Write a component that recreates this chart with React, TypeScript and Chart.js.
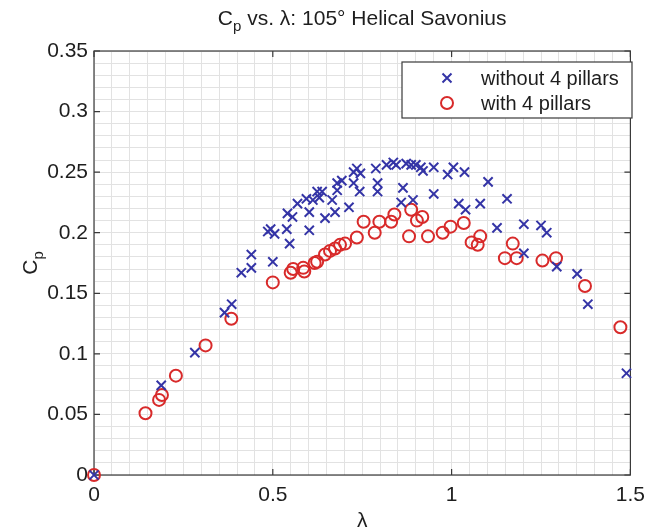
import React, { useEffect, useRef } from 'react';
import { Chart, registerables } from 'chart.js';

Chart.register(...registerables);

// ---- data ----
const withoutPillarsLambda = [
  0, 0.188, 0.282, 0.365, 0.385, 0.412, 0.44, 0.44, 0.486, 0.494, 0.505, 0.5, 0.539, 0.541, 0.555, 0.547,
  0.569, 0.594, 0.602, 0.602, 0.612, 0.624, 0.638, 0.63, 0.646, 0.666, 0.674, 0.68, 0.693, 0.68, 0.713,
  0.726, 0.735, 0.745, 0.726, 0.743, 0.788, 0.793, 0.793, 0.818, 0.837, 0.845, 0.864, 0.859, 0.873, 0.887,
  0.892, 0.9, 0.914, 0.92, 0.95, 0.95, 0.989, 1.005, 1.02, 1.036, 1.039, 1.08, 1.102, 1.127, 1.155, 1.202,
  1.202, 1.25, 1.266, 1.294, 1.351, 1.381, 1.489,
];
const withoutPillarsCp = [
  0, 0.074, 0.101, 0.134, 0.141, 0.167, 0.171, 0.182, 0.201, 0.203, 0.199, 0.176, 0.203, 0.216, 0.213, 0.191,
  0.224, 0.228, 0.217, 0.202, 0.227, 0.234, 0.234, 0.229, 0.212, 0.227, 0.217, 0.241, 0.243, 0.235, 0.221,
  0.25, 0.253, 0.249, 0.241, 0.234, 0.253, 0.241, 0.234, 0.256, 0.258, 0.256, 0.237, 0.225, 0.257, 0.256,
  0.227, 0.256, 0.254, 0.251, 0.254, 0.232, 0.248, 0.254, 0.224, 0.25, 0.219, 0.224, 0.242, 0.204, 0.228, 0.207,
  0.183, 0.206, 0.2, 0.172, 0.166, 0.141, 0.084,
];
const withPillarsLambda = [
  0, 0.144, 0.182, 0.19, 0.229, 0.312, 0.384, 0.5, 0.55, 0.557, 0.585, 0.588, 0.617, 0.624, 0.646, 0.66,
  0.674, 0.688, 0.702, 0.735, 0.754, 0.785, 0.798, 0.831, 0.84, 0.881, 0.887, 0.903, 0.918, 0.934, 0.975,
  0.997, 1.034, 1.056, 1.073, 1.08, 1.149, 1.171, 1.182, 1.254, 1.292, 1.373, 1.472,
];
const withPillarsCp = [
  0, 0.051, 0.062, 0.066, 0.082, 0.107, 0.129, 0.159, 0.167, 0.17, 0.171, 0.168, 0.175, 0.176, 0.182, 0.185,
  0.187, 0.19, 0.191, 0.196, 0.209, 0.2, 0.209, 0.209, 0.215, 0.197, 0.219, 0.21, 0.213, 0.197, 0.2,
  0.205, 0.208, 0.192, 0.19, 0.197, 0.179, 0.191, 0.179, 0.177, 0.179, 0.156, 0.122,
];
const xTickLabels = [0, 0.5, 1, 1.5];
const yTickLabels = [0, 0.05, 0.1, 0.15, 0.2, 0.25, 0.3, 0.35];
const seriesNames = ['without 4 pillars', 'with 4 pillars'];
const titleParts = ['C', 'p', ' vs. \u03bb: 105\u00b0 Helical Savonius'];
const yLabelParts = ['C', 'p'];
const xLabelText = '\u03bb';

const BLUE = '#3434a6';
const RED = '#d82a2a';
const FONT = '"Liberation Sans", Arial, sans-serif';
const TEXT = '#1e1e1e';

const isMajor = (v: number, list: number[]) => list.some((t) => Math.abs(t - v) < 1e-6);

const decorPlugin = {
  id: 'decor',
  beforeDatasetsDraw(chart: any) {
    const { ctx, chartArea: a, scales } = chart;
    ctx.save();
    ctx.strokeStyle = '#3a3a3a';
    ctx.lineWidth = 1.2;
    ctx.strokeRect(a.left, a.top, a.right - a.left, a.bottom - a.top);
    ctx.beginPath();
    xTickLabels.forEach((v) => {
      const x = scales.x.getPixelForValue(v);
      ctx.moveTo(x, a.bottom); ctx.lineTo(x, a.bottom - 6);
      ctx.moveTo(x, a.top); ctx.lineTo(x, a.top + 6);
    });
    yTickLabels.forEach((v) => {
      const y = scales.y.getPixelForValue(v);
      ctx.moveTo(a.left, y); ctx.lineTo(a.left + 6, y);
      ctx.moveTo(a.right, y); ctx.lineTo(a.right - 6, y);
    });
    ctx.stroke();
    ctx.restore();
  },
  afterDraw(chart: any) {
    const { ctx, chartArea: a } = chart;
    ctx.save();
    ctx.fillStyle = TEXT;
    ctx.textBaseline = 'alphabetic';
    const big = `21px ${FONT}`;
    const small = `15px ${FONT}`;
    ctx.font = big;
    const w0 = ctx.measureText(titleParts[0]).width;
    const w2 = ctx.measureText(titleParts[2]).width;
    ctx.font = small;
    const w1 = ctx.measureText(titleParts[1]).width;
    const cx = (a.left + a.right) / 2;
    let x = cx - (w0 + w1 + w2) / 2;
    const by = 25;
    ctx.textAlign = 'left';
    ctx.font = big; ctx.fillText(titleParts[0], x, by); x += w0;
    ctx.font = small; ctx.fillText(titleParts[1], x, by + 6); x += w1;
    ctx.font = big; ctx.fillText(titleParts[2], x, by);
    // x label
    ctx.textAlign = 'center';
    ctx.font = `21px ${FONT}`;
    ctx.fillText(xLabelText, cx, 527);
    // y label
    ctx.save();
    ctx.translate(37, (a.top + a.bottom) / 2);
    ctx.rotate(-Math.PI / 2);
    ctx.font = big;
    const c0 = ctx.measureText(yLabelParts[0]).width;
    ctx.font = small;
    const c1 = ctx.measureText(yLabelParts[1]).width;
    let yx = -(c0 + c1) / 2;
    ctx.textAlign = 'left';
    ctx.font = big; ctx.fillText(yLabelParts[0], yx, 0); yx += c0;
    ctx.font = small; ctx.fillText(yLabelParts[1], yx, 6);
    ctx.restore();
    // legend
    const lx = 402, ly = 62, lw = 230, lh = 56;
    ctx.fillStyle = '#ffffff';
    ctx.fillRect(lx, ly, lw, lh);
    ctx.strokeStyle = '#3a3a3a';
    ctx.lineWidth = 1.2;
    ctx.strokeRect(lx, ly, lw, lh);
    const r1y = ly + 16, r2y = ly + 41, mx = 447;
    ctx.strokeStyle = BLUE; ctx.lineWidth = 2;
    ctx.beginPath();
    ctx.moveTo(mx - 4.5, r1y - 4.5); ctx.lineTo(mx + 4.5, r1y + 4.5);
    ctx.moveTo(mx - 4.5, r1y + 4.5); ctx.lineTo(mx + 4.5, r1y - 4.5);
    ctx.stroke();
    ctx.strokeStyle = RED;
    ctx.beginPath(); ctx.arc(mx, r2y, 6, 0, Math.PI * 2); ctx.stroke();
    ctx.fillStyle = TEXT;
    ctx.font = `20px ${FONT}`;
    ctx.textAlign = 'left';
    ctx.textBaseline = 'middle';
    ctx.fillText(seriesNames[0], 481, r1y + 1);
    ctx.fillText(seriesNames[1], 481, r2y + 1);
    ctx.restore();
  },
};

export default function App() {
  const ref = useRef<HTMLCanvasElement | null>(null);
  useEffect(() => {
    if (!ref.current) return;
    const chart = new Chart(ref.current, {
      type: 'scatter',
      data: {
        datasets: [
          {
            label: seriesNames[0],
            data: withoutPillarsLambda.map((v, i) => ({ x: v, y: withoutPillarsCp[i] })),
            pointStyle: 'crossRot',
            pointRadius: 6.5,
            borderColor: BLUE,
            backgroundColor: BLUE,
            pointBorderWidth: 2,
            clip: false,
          },
          {
            label: seriesNames[1],
            data: withPillarsLambda.map((v, i) => ({ x: v, y: withPillarsCp[i] })),
            pointStyle: 'circle',
            pointRadius: 6,
            borderColor: RED,
            backgroundColor: 'rgba(0,0,0,0)',
            pointBorderWidth: 2,
            clip: false,
          },
        ],
      },
      options: {
        responsive: false,
        animation: false,
        events: [],
        layout: { padding: { top: 51, right: 16, left: 0, bottom: 0 } },
        plugins: { legend: { display: false }, title: { display: false }, tooltip: { enabled: false } },
        scales: {
          x: {
            type: 'linear',
            min: 0,
            max: 1.5,
            afterFit: (s: any) => { s.height = 57; },
            border: { display: false },
            grid: { color: '#e2e2e2', lineWidth: 1, drawTicks: false },
            ticks: {
              stepSize: 0.05,
              autoSkip: false,
              maxRotation: 0,
              padding: 8,
              color: TEXT,
              font: { family: FONT, size: 21 },
              callback: (v: any) => (isMajor(Number(v), xTickLabels) ? String(Math.round(Number(v) * 10) / 10) : ''),
            },
          },
          y: {
            type: 'linear',
            min: 0,
            max: 0.35,
            afterFit: (s: any) => { s.width = 94; },
            border: { display: false },
            grid: { color: '#e2e2e2', lineWidth: 1, drawTicks: false },
            ticks: {
              stepSize: 0.01,
              autoSkip: false,
              padding: 6,
              color: TEXT,
              font: { family: FONT, size: 21 },
              callback: (v: any) => (isMajor(Number(v), yTickLabels) ? String(Math.round(Number(v) * 100) / 100) : ''),
            },
          },
        },
      },
      plugins: [decorPlugin],
    });
    return () => chart.destroy();
  }, []);
  return (
    <div style={{ position: 'absolute', left: 0, top: 0, width: 653, height: 532, background: '#fff' }}>
      <canvas ref={ref} width={653} height={532} />
    </div>
  );
}
